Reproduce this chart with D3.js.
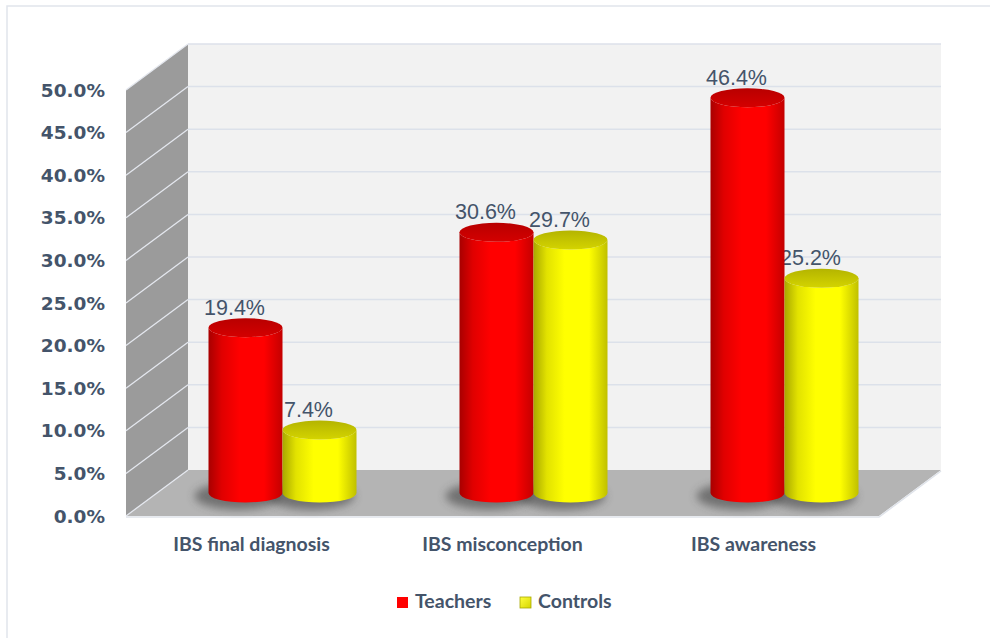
<!DOCTYPE html>
<html>
<head>
<meta charset="utf-8">
<script src="https://cdn.jsdelivr.net/npm/d3@7"></script>
<style>
  body { margin: 0; background: #fff; }
  svg { display: block; }
</style>
</head>
<body>
<div id="chart"></div>
<script>
// data
var categories = ["IBS final diagnosis", "IBS misconception", "IBS awareness"];
var seriesNames = ["Teachers", "Controls"];
var teachers = [0.194, 0.306, 0.464];
var controls = [0.074, 0.297, 0.252];
var yTicks = [0, 0.05, 0.1, 0.15, 0.2, 0.25, 0.3, 0.35, 0.4, 0.45, 0.5];

var svgWidth = 990, svgHeight = 638;

// front plane of the 3D box and the depth offset
var front = { left: 126, right: 879, bottom: 516, top: 90 };
var depth = { dx: 62, dy: -46 };
var textColor = "#44546A";

var svg = d3.select("#chart").append("svg")
  .attr("width", svgWidth)
  .attr("height", svgHeight);

var defs = svg.append("defs");

// cylinder gradients
function bodyGradient(id, stops) {
  var g = defs.append("linearGradient").attr("id", id)
    .attr("x1", "0%").attr("x2", "100%").attr("y1", "0%").attr("y2", "0%");
  stops.forEach(function(s) {
    g.append("stop").attr("offset", s[0]).attr("stop-color", s[1]);
  });
}
bodyGradient("redBody", [["0%", "#a80000"], ["18%", "#e00000"], ["42%", "#ff0000"], ["75%", "#ff0000"], ["100%", "#c40000"]]);
bodyGradient("yelBody", [["0%", "#a8a800"], ["18%", "#e2e200"], ["42%", "#ffff00"], ["75%", "#ffff00"], ["100%", "#c0c000"]]);

function topGradient(id, c1, c2) {
  var g = defs.append("linearGradient").attr("id", id)
    .attr("x1", "0%").attr("x2", "0%").attr("y1", "0%").attr("y2", "100%");
  g.append("stop").attr("offset", "0%").attr("stop-color", c1);
  g.append("stop").attr("offset", "100%").attr("stop-color", c2);
}
topGradient("redTop", "#b80000", "#d40000");
topGradient("yelTop", "#b4b400", "#d4d400");

var legendYel = defs.append("linearGradient").attr("id", "yelLegend")
  .attr("x1", "0%").attr("x2", "100%").attr("y1", "0%").attr("y2", "100%");
legendYel.append("stop").attr("offset", "0%").attr("stop-color", "#ffff40");
legendYel.append("stop").attr("offset", "100%").attr("stop-color", "#d6d600");

defs.append("filter").attr("id", "blur")
  .attr("x", "-50%").attr("y", "-50%").attr("width", "200%").attr("height", "200%")
  .append("feGaussianBlur").attr("stdDeviation", 4);

// outer frame (only top and left are visible)
svg.append("path")
  .attr("d", "M7,638 L7,6 L990,6")
  .attr("fill", "none")
  .attr("stroke", "#e1e5ec")
  .attr("stroke-width", 1.5);

// scales
var y = d3.scaleLinear().domain([0, 0.5]).range([front.bottom, front.top]);
var x = d3.scaleBand().domain(categories).range([front.left, front.right]);
var sub = d3.scaleBand().domain(seriesNames).range([-74, 74]).padding(0);

// walls
var bl = front.left + depth.dx, br = front.right + depth.dx;
svg.append("rect")
  .attr("x", bl).attr("y", y(0.5) + depth.dy)
  .attr("width", br - bl).attr("height", y(0) - y(0.5))
  .attr("fill", "#f2f2f2");

svg.append("polygon")
  .attr("points", [
    [front.left, y(0)], [front.left, y(0.5)],
    [bl, y(0.5) + depth.dy], [bl, y(0) + depth.dy]
  ].join(" "))
  .attr("fill", "#9b9b9b");

svg.append("polygon")
  .attr("points", [
    [front.left, y(0)], [front.right, y(0)],
    [br, y(0) + depth.dy], [bl, y(0) + depth.dy]
  ].join(" "))
  .attr("fill", "#b4b4b4");

// front edge of the floor
svg.append("path")
  .attr("d", "M" + front.left + "," + (y(0) + 1) + " L" + front.right + "," + (y(0) + 1) +
    " L" + br + "," + (y(0) + depth.dy + 1))
  .attr("fill", "none").attr("stroke", "#dfe3ea").attr("stroke-width", 1.5);

// gridlines on the back wall and the side wall
var grid = yTicks.filter(function(d) { return d > 0; });
svg.append("g").selectAll("line.back")
  .data(grid).enter().append("line")
  .attr("x1", bl).attr("x2", br)
  .attr("y1", function(d) { return y(d) + depth.dy; })
  .attr("y2", function(d) { return y(d) + depth.dy; })
  .attr("stroke", "#dce1ea").attr("stroke-width", 1.5);

svg.append("g").selectAll("line.side")
  .data(yTicks).enter().append("line")
  .attr("x1", front.left).attr("x2", bl)
  .attr("y1", function(d) { return y(d); })
  .attr("y2", function(d) { return y(d) + depth.dy; })
  .attr("stroke", "#e4e7ee").attr("stroke-width", 1.3);

// y axis labels
var fmt = d3.format(".1%");
svg.append("g").selectAll("text")
  .data(yTicks).enter().append("text")
  .attr("x", 105)
  .attr("y", function(d) { return y(d); })
  .attr("dy", "0.36em")
  .attr("text-anchor", "end")
  .attr("font-family", "DejaVu Sans, sans-serif")
  .attr("font-weight", "bold")
  .attr("font-size", 18.5)
  .attr("fill", textColor)
  .text(function(d) { return fmt(d); });

// category labels
svg.append("g").selectAll("text")
  .data(categories).enter().append("text")
  .attr("x", function(d) { return x(d) + x.bandwidth() / 2; })
  .attr("y", 551)
  .attr("text-anchor", "middle")
  .attr("font-family", "Lato, sans-serif")
  .attr("font-weight", "bold")
  .attr("font-size", 19.5)
  .attr("fill", textColor)
  .text(function(d) { return d; });

// cylinder records (mid-depth plane)
var bars = [];
categories.forEach(function(c, i) {
  [teachers, controls].forEach(function(vals, s) {
    bars.push({ cat: c, series: seriesNames[s], value: vals[i], idx: s });
  });
});
var rx = 37, ry = 9.5;
function cx(d) { return x(d.cat) + x.bandwidth() / 2 + depth.dx / 2 + sub(d.series) + sub.bandwidth() / 2; }
function yMid(v) { return y(v) + depth.dy / 2; }

// value labels (drawn first, cylinders cover them in places)
svg.append("g").selectAll("text")
  .data(bars).enter().append("text")
  .attr("x", function(d) { return cx(d) - 11; })
  .attr("y", function(d) { return yMid(d.value) - 13; })
  .attr("text-anchor", "middle")
  .attr("font-family", "Liberation Sans, Arial, sans-serif")
  .attr("font-size", 21.5)
  .attr("fill", textColor)
  .text(function(d) { return fmt(d.value); });

// shadows
svg.append("g").selectAll("ellipse")
  .data(bars).enter().append("ellipse")
  .attr("cx", function(d) { return cx(d) - 8; })
  .attr("cy", function(d) { return yMid(0) + 3; })
  .attr("rx", rx + 6).attr("ry", ry + 4)
  .attr("fill", "#3a3a3a").attr("opacity", 0.55)
  .attr("filter", "url(#blur)");

// cylinders
var cyl = svg.append("g").selectAll("g")
  .data(bars).enter().append("g");

cyl.append("path")
  .attr("d", function(d) {
    var c = cx(d), t = yMid(d.value), b = yMid(0);
    return "M" + (c - rx) + "," + t +
      " L" + (c - rx) + "," + b +
      " A" + rx + "," + ry + " 0 0 0 " + (c + rx) + "," + b +
      " L" + (c + rx) + "," + t +
      " A" + rx + "," + ry + " 0 0 1 " + (c - rx) + "," + t + " Z";
  })
  .attr("fill", function(d) { return d.idx === 0 ? "url(#redBody)" : "url(#yelBody)"; });

cyl.append("ellipse")
  .attr("cx", cx)
  .attr("cy", function(d) { return yMid(d.value); })
  .attr("rx", rx).attr("ry", ry)
  .attr("fill", function(d) { return d.idx === 0 ? "url(#redTop)" : "url(#yelTop)"; });

// legend
var legend = svg.append("g").selectAll("g")
  .data(seriesNames).enter().append("g")
  .attr("transform", function(d, i) { return "translate(" + (397 + i * 123) + ",597)"; });

legend.append("rect")
  .attr("width", 11).attr("height", 11)
  .attr("fill", function(d, i) { return i === 0 ? "#ff0000" : "url(#yelLegend)"; })
  .attr("stroke", function(d, i) { return i === 0 ? "none" : "#a8a800"; })
  .attr("stroke-width", 0.8);

legend.append("text")
  .attr("x", 18).attr("y", 11)
  .attr("font-family", "Lato, sans-serif")
  .attr("font-weight", "bold")
  .attr("font-size", 19.5)
  .attr("fill", textColor)
  .text(function(d) { return d; });
</script>
</body>
</html>
